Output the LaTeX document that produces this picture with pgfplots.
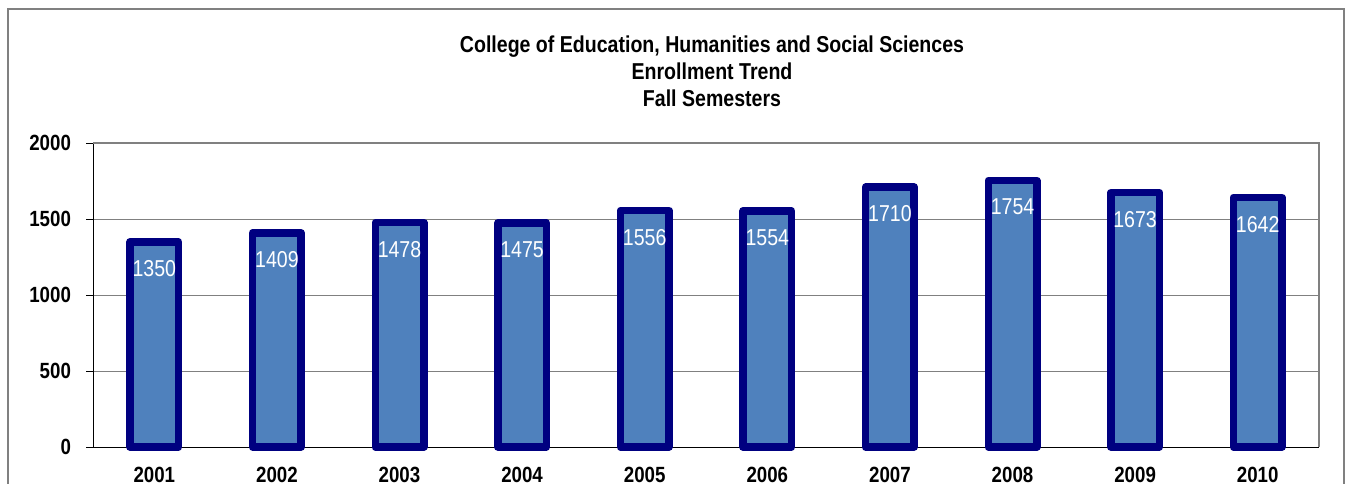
\documentclass[border=0pt]{standalone}
\usepackage{pgfplots}
\pgfplotsset{compat=1.18}
\usepackage{fontspec}
\setmainfont{Liberation Sans}[FakeStretch=0.85]

\definecolor{barfill}{RGB}{79,129,189}
\definecolor{barline}{RGB}{0,0,128}
\definecolor{framegray}{RGB}{128,128,128}

\begin{document}
\begin{tikzpicture}
\useasboundingbox (0,0) rectangle (674.5pt,241.5pt);
% outer chart frame (bottom runs off the picture)
\draw[framegray, line width=0.6pt] (4pt,-5pt) -- (4pt,237pt) -- (672pt,237pt) -- (672pt,-5pt);

\node[align=center, font=\fontsize{11.5}{13.5}\selectfont\bfseries] at (356pt,206pt)
    {College of Education, Humanities and Social Sciences\\Enrollment Trend\\Fall Semesters};

\begin{axis}[
    at={(46.5pt,18pt)}, anchor=south west,
    scale only axis,
    width=613pt, height=152pt,
    xmin=0.5, xmax=10.5,
    ymin=0, ymax=2000,
    ytick={0,500,1000,1500,2000},
    xtick={1,...,10},
    xticklabels={2001,2002,2003,2004,2005,2006,2007,2008,2009,2010},
    minor xtick={0.5,1.5,...,10.5},
    xtick style={draw=none},
    minor tick length=3.5pt,
    major tick length=3.5pt,
    tick align=outside,
    minor x tick style={framegray, line width=0.6pt},
    y tick style={black, line width=0.5pt},
    axis x line*=bottom,
    axis y line*=left,
    axis line style={black, line width=0.5pt, -},
    ymajorgrids,
    major grid style={framegray, line width=0.5pt},
    /pgf/number format/1000 sep={},
    /pgf/number format/assume math mode=true,
    ticklabel style={font=\fontsize{11}{13}\selectfont\bfseries},
    yticklabel style={xshift=-4pt},
    xticklabel style={yshift=-3pt},
    clip=false,
]
\addplot[ybar, bar width=24.25pt, fill=barfill, draw=barline, line width=3.75pt,
    line join=round,
    nodes near coords,
    every node near coord/.append style={anchor=north, inner sep=0pt, yshift=-7.5pt,
        text=white, font=\fontsize{11.5}{13}\selectfont,
        /pgf/number format/1000 sep={}, /pgf/number format/assume math mode=true}]
    coordinates {
    (1,1350) (2,1409) (3,1478) (4,1475) (5,1556)
    (6,1554) (7,1710) (8,1754) (9,1673) (10,1642)
};
% top and right border of the plot area
\draw[framegray, line width=1pt] (rel axis cs:0,1) -- (rel axis cs:1,1) -- (rel axis cs:1,0);
\end{axis}
\end{tikzpicture}
\end{document}
